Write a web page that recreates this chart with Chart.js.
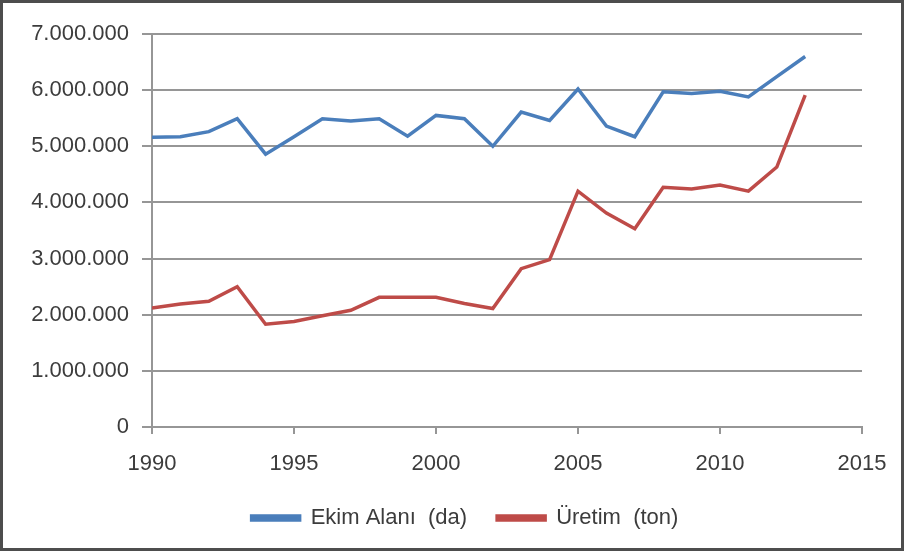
<!DOCTYPE html>
<html>
<head>
<meta charset="utf-8">
<script src="https://cdn.jsdelivr.net/npm/chart.js@4.4.1/dist/chart.umd.min.js"></script>
<style>
    html, body { margin: 0; padding: 0; background: #ffffff; }
    #wrap { position: relative; width: 904px; height: 551px; }
</style>
</head>
<body>
<div id="wrap"><canvas id="lineGraph" width="904" height="551"></canvas></div>
<script>
"use strict";

const years = [1990, 1991, 1992, 1993, 1994, 1995, 1996, 1997, 1998, 1999, 2000, 2001,
               2002, 2003, 2004, 2005, 2006, 2007, 2008, 2009, 2010, 2011, 2012, 2013];

const ekimAlani = [5160000, 5170000, 5260000, 5490000, 4860000, 5170000, 5490000, 5450000,
                   5490000, 5180000, 5550000, 5490000, 5000000, 5610000, 5460000, 6020000,
                   5360000, 5170000, 5970000, 5940000, 5980000, 5880000, 6240000, 6600000];

const uretim = [2120000, 2190000, 2240000, 2500000, 1830000, 1880000, 1980000, 2080000,
                2310000, 2310000, 2310000, 2200000, 2110000, 2820000, 2980000, 4200000,
                3810000, 3530000, 4270000, 4240000, 4310000, 4200000, 4630000, 5910000];

const seriesLabels = ["Ekim Alanı  (da)", "Üretim  (ton)"];
const xTicks = [1990, 1995, 2000, 2005, 2010, 2015];
const yTicks = [0, 1000000, 2000000, 3000000, 4000000, 5000000, 6000000, 7000000];

const textColor = "#3c3c3c";
const gridColor = "#969696";
const font = {family: "'Liberation Sans', Arial, sans-serif", size: 22};

function toPoints(values)
{
    return years.map((year, i) => ({x: year, y: values[i]}));
}

function formatThousands(value)
{
    return String(Math.round(value)).replace(/\B(?=(\d{3})+(?!\d))/g, ".");
}

const framePlugin = {
    id: "frame",
    afterLayout(chart) {
        // legend sits a bit right of centre in the original
        chart.legend.left += 34;
        chart.legend.right += 34;
    },
    afterDraw(chart) {
        const ctx = chart.ctx;
        ctx.save();
        ctx.strokeStyle = "#4d4d4d";
        ctx.lineWidth = 3;
        ctx.strokeRect(1.5, 1.5, chart.width - 3, chart.height - 3);
        ctx.restore();
    }
};

const chart = new Chart("lineGraph", {
    type: "line",
    data: {
        datasets: [
            {
                label: seriesLabels[0],
                data: toPoints(ekimAlani),
                borderColor: "#4a7ebb",
                backgroundColor: "#4a7ebb",
                borderWidth: 3.5,
                pointRadius: 0,
                tension: 0,
                fill: false
            },
            {
                label: seriesLabels[1],
                data: toPoints(uretim),
                borderColor: "#be4b48",
                backgroundColor: "#be4b48",
                borderWidth: 3.5,
                pointRadius: 0,
                tension: 0,
                fill: false
            }
        ]
    },
    options: {
        responsive: false,
        animation: false,
        layout: {padding: {left: 0, right: 42, top: 34, bottom: 12}},
        plugins: {
            tooltip: {enabled: false},
            legend: {
                display: true,
                position: "bottom",
                labels: {
                    color: textColor,
                    font: font,
                    boxWidth: 48,
                    boxHeight: 4,
                    padding: 30
                }
            }
        },
        scales: {
            x: {
                type: "linear",
                min: xTicks[0],
                max: xTicks[xTicks.length - 1],
                afterBuildTicks(scale) {
                    scale.ticks = xTicks.map(v => ({value: v}));
                },
                afterFit(scale) {
                    scale.height = 50;
                },
                ticks: {
                    color: textColor,
                    font: font,
                    padding: 17,
                    maxRotation: 0,
                    callback: v => String(v)
                },
                grid: {
                    drawOnChartArea: false,
                    drawTicks: true,
                    tickLength: 7,
                    color: gridColor,
                    lineWidth: 2
                },
                border: {display: true, color: gridColor, width: 2}
            },
            y: {
                min: yTicks[0],
                max: yTicks[yTicks.length - 1],
                afterBuildTicks(scale) {
                    scale.ticks = yTicks.map(v => ({value: v}));
                },
                afterFit(scale) {
                    scale.width = 152;
                },
                ticks: {
                    color: textColor,
                    font: font,
                    padding: 13,
                    callback: v => formatThousands(v)
                },
                grid: {
                    drawOnChartArea: true,
                    drawTicks: true,
                    tickLength: 10,
                    color: gridColor,
                    lineWidth: 2
                },
                border: {display: true, color: gridColor, width: 2}
            }
        }
    },
    plugins: [framePlugin]
});
</script>
</body>
</html>
